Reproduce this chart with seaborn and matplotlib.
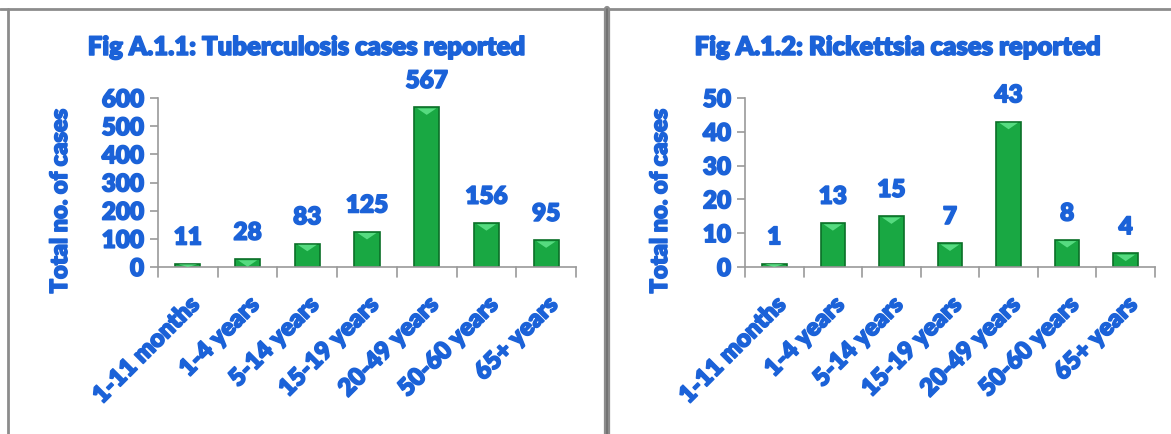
import matplotlib
matplotlib.use("Agg")
import matplotlib.pyplot as plt
import matplotlib.patheffects as pe
from matplotlib.patches import Polygon
from matplotlib.lines import Line2D
import seaborn as sns
import pandas as pd

age_groups = ["1-11 months", "1-4 years", "5-14 years", "15-19 years",
              "20-49 years", "50-60 years", "65+ years"]
tb_cases = [11, 28, 83, 125, 567, 156, 95]
rickettsia_cases = [1, 13, 15, 7, 43, 8, 4]

tb_ticks = [0, 100, 200, 300, 400, 500, 600]
rick_ticks = [0, 10, 20, 30, 40, 50]

titles = ["Fig A.1.1: Tuberculosis cases reported",
          "Fig A.1.2: Rickettsia cases reported"]
ylabel = "Total no. of cases"

sns.set_theme(style="white")
plt.rcParams["font.family"] = ["Lato", "DejaVu Sans"]

BLUE = "#1b62d8"
GREEN = "#19a843"
EDGE = "#0b6f28"
LIGHT = "#62e58c"
AXIS_GRAY = "#9a9a9a"
heavy = [pe.withStroke(linewidth=1.1, foreground=BLUE)]

fig = plt.figure(figsize=(11.71, 4.34), dpi=100)
W, H = 1171, 434


def fx(px):
    return px / W


def fy(py):
    return 1 - py / H


# panel frames
frame_kw = dict(transform=fig.transFigure, color="#8c8c8c", lw=2.0)
fig.add_artist(Line2D([fx(0), fx(W)], [fy(8.5), fy(8.5)], **frame_kw))
fig.add_artist(Line2D([fx(8), fx(8)], [fy(8.5), fy(H)], **frame_kw))
fig.add_artist(Line2D([fx(607.5), fx(607.5)], [fy(8.5), fy(H)],
                      transform=fig.transFigure, color="#8c8c8c", lw=4.5))
fig.add_artist(Line2D([fx(607.5), fx(607.5)], [fy(8.5), fy(H)],
                      transform=fig.transFigure, color="#6e6e6e", lw=1.2))

panels = [
    dict(values=tb_cases, ticks=tb_ticks, left=158, right=576,
         title=titles[0], title_x=307, ylab_x=60),
    dict(values=rickettsia_cases, ticks=rick_ticks, left=745, right=1155,
         title=titles[1], title_x=898, ylab_x=660),
]

y_bottom, y_top = 267, 98

for p in panels:
    ax = fig.add_axes([fx(p["left"]), fy(y_bottom),
                       fx(p["right"] - p["left"]), (y_bottom - y_top) / H])
    df = pd.DataFrame({"group": age_groups, "cases": p["values"]})
    sns.barplot(data=df, x="group", y="cases", ax=ax, color=GREEN,
                saturation=1, width=0.42, edgecolor=EDGE, linewidth=1.2)

    # bevel highlight on top of each bar
    ymin, ymax = p["ticks"][0], p["ticks"][-1]
    for patch in ax.patches:
        x0 = patch.get_x()
        w = patch.get_width()
        h = patch.get_height()
        top = patch.get_y() + h
        bev = min(h, (ymax - ymin) * 0.045)
        tri = Polygon([[x0 + w * 0.12, top - bev * 0.15],
                       [x0 + w * 0.88, top - bev * 0.15],
                       [x0 + w * 0.5, top - bev]],
                      closed=True, facecolor=LIGHT, edgecolor="none",
                      alpha=0.85, zorder=3)
        ax.add_patch(tri)

    ax.set_xlim(-0.5, len(age_groups) - 0.5)
    ax.set_ylim(ymin, ymax)
    ax.set_yticks(p["ticks"])
    ax.set_yticklabels([str(t) for t in p["ticks"]], fontsize=17.5,
                       fontweight="heavy", color=BLUE)
    ax.set_xticks(range(len(age_groups)))
    ax.set_xticklabels(age_groups, rotation=45, ha="right",
                       rotation_mode="anchor", fontsize=17.5,
                       fontweight="heavy", color=BLUE)
    for lab in ax.get_xticklabels() + ax.get_yticklabels():
        lab.set_path_effects(heavy)
    ax.tick_params(axis="x", length=0, pad=19)
    ax.tick_params(axis="y", length=6, color=AXIS_GRAY, width=1.2, pad=4,
                   left=True)
    # category boundary ticks on the x axis
    for b in range(len(age_groups) + 1):
        ax.plot([b - 0.5, b - 0.5], [0, -0.06], color=AXIS_GRAY, lw=1.2,
                transform=ax.get_xaxis_transform(), clip_on=False)
    ax.set_xlabel("")
    ax.set_ylabel("")
    for side in ["top", "right"]:
        ax.spines[side].set_visible(False)
    for side in ["left", "bottom"]:
        ax.spines[side].set_color(AXIS_GRAY)
        ax.spines[side].set_linewidth(1.2)
    ax.patch.set_alpha(0)

    for i, v in enumerate(p["values"]):
        ax.annotate(str(v), (i, v), xytext=(0, 11), textcoords="offset points",
                    ha="center", va="bottom", fontsize=17.5, fontweight="heavy",
                    color=BLUE, annotation_clip=False, path_effects=heavy)

    fig.text(fx(p["title_x"]), fy(47), p["title"], ha="center", va="center",
             fontsize=18.5, fontweight="heavy", color=BLUE, path_effects=heavy)
    fig.text(fx(p["ylab_x"]), fy(201), ylabel, ha="center", va="center",
             rotation=90, fontsize=17, fontweight="heavy", color=BLUE,
             path_effects=heavy)

fig.savefig("out.png", dpi=100)
